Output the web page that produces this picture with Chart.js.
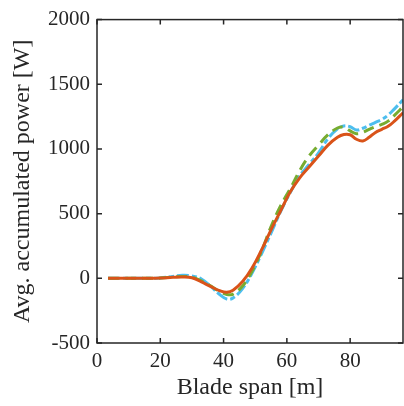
<!DOCTYPE html>
<html>
<head>
<meta charset="utf-8">
<script src="https://cdn.jsdelivr.net/npm/chart.js@4.4.0/dist/chart.umd.min.js"></script>
<style>
    html, body { margin: 0; padding: 0; background: #fff; }
    #wrap { width: 404px; height: 406px; }
</style>
</head>
<body>
<div id="wrap"><canvas id="chart1"></canvas></div>
<script>
var span = [3.5, 8, 12, 16, 20, 24, 27, 30, 33, 36, 39, 41, 43, 46, 49, 52, 55, 58, 61, 64, 67, 70, 73, 76, 78, 80, 82, 84, 86, 88, 90, 92, 94, 96.7];
var powerOrange = [0, 0, 0, 0, 2, 8, 10, 4, -28, -65, -98, -108, -92, -25, 80, 220, 375, 520, 665, 775, 860, 945, 1030, 1090, 1112, 1110, 1075, 1062, 1090, 1128, 1152, 1175, 1215, 1280];
var powerGreen = [0, 0, 0, 0, 2, 10, 15, 8, -20, -60, -105, -125, -122, -60, 55, 210, 400, 560, 690, 830, 945, 1030, 1110, 1162, 1168, 1140, 1118, 1128, 1152, 1172, 1190, 1215, 1260, 1325];
var powerBlue = [0, 0, 0, 0, 3, 15, 23, 18, -5, -65, -130, -160, -152, -80, 40, 190, 350, 515, 660, 790, 880, 970, 1080, 1155, 1178, 1172, 1146, 1160, 1183, 1205, 1228, 1262, 1310, 1380];
var xTicks = [0, 20, 40, 60, 80];
var yTicks = [-500, 0, 500, 1000, 1500, 2000];

var axisColor = '#262626';
var serif = "'Liberation Serif', 'DejaVu Serif', serif";

function toPoints(ys) {
    return span.map(function (x, i) { return { x: x, y: ys[i] }; });
}

// MATLAB style box with inward ticks on all four sides
var boxPlugin = {
    id: 'box',
    afterDraw: function (chart) {
        var ctx = chart.ctx;
        var a = chart.chartArea;
        var xs = chart.scales.x, ys = chart.scales.y;
        var len = 5;
        ctx.save();
        ctx.strokeStyle = axisColor;
        ctx.lineWidth = 1.5;
        ctx.strokeRect(a.left, a.top, a.right - a.left, a.bottom - a.top);
        ctx.beginPath();
        xTicks.forEach(function (v) {
            var px = xs.getPixelForValue(v);
            ctx.moveTo(px, a.bottom); ctx.lineTo(px, a.bottom - len);
            ctx.moveTo(px, a.top); ctx.lineTo(px, a.top + len);
        });
        yTicks.forEach(function (v) {
            var py = ys.getPixelForValue(v);
            ctx.moveTo(a.left, py); ctx.lineTo(a.left + len, py);
            ctx.moveTo(a.right, py); ctx.lineTo(a.right - len, py);
        });
        ctx.stroke();
        ctx.restore();
    }
};

function fixedTicks(values) {
    return function (scale) {
        scale.ticks = values.map(function (v) { return { value: v }; });
    };
}

function plainLabel(value) {
    return String(value);
}

var ctx = document.getElementById('chart1').getContext('2d');
new Chart(ctx, {
    type: 'line',
    data: {
        datasets: [{
            data: toPoints(powerOrange),
            borderColor: '#D95319',
            borderWidth: 3,
            tension: 0.4
        }, {
            data: toPoints(powerGreen),
            borderColor: '#77AC30',
            borderWidth: 3,
            borderDash: [11, 6],
            tension: 0.4
        }, {
            data: toPoints(powerBlue),
            borderColor: '#4DBEEE',
            borderWidth: 3,
            borderDash: [12, 3, 5, 3],
            tension: 0.4
        }]
    },
    options: {
        responsive: true,
        maintainAspectRatio: false,
        animation: false,
        layout: { padding: { top: 19, right: 1, left: 0, bottom: 0 } },
        elements: { point: { radius: 0 } },
        plugins: {
            legend: { display: false },
            tooltip: { enabled: false }
        },
        scales: {
            x: {
                type: 'linear',
                min: 0,
                max: 96.7,
                afterBuildTicks: fixedTicks(xTicks),
                afterFit: function (scale) { scale.height = 63; },
                grid: { display: false, drawTicks: false },
                border: { display: false },
                ticks: {
                    color: axisColor,
                    padding: 6,
                    maxRotation: 0,
                    callback: plainLabel,
                    font: { family: serif, size: 21 }
                },
                title: {
                    display: true,
                    text: 'Blade span [m]',
                    color: axisColor,
                    padding: { top: 0, bottom: 4 },
                    font: { family: serif, size: 24 }
                }
            },
            y: {
                min: -500,
                max: 2000,
                afterBuildTicks: fixedTicks(yTicks),
                afterFit: function (scale) { scale.width = 97; },
                grid: { display: false, drawTicks: false },
                border: { display: false },
                ticks: {
                    color: axisColor,
                    padding: 7,
                    callback: plainLabel,
                    font: { family: serif, size: 21 }
                },
                title: {
                    display: true,
                    text: 'Avg. accumulated power [W]',
                    color: axisColor,
                    padding: { top: 8, bottom: 0 },
                    font: { family: serif, size: 24 }
                }
            }
        }
    },
    plugins: [boxPlugin]
});
</script>
</body>
</html>
